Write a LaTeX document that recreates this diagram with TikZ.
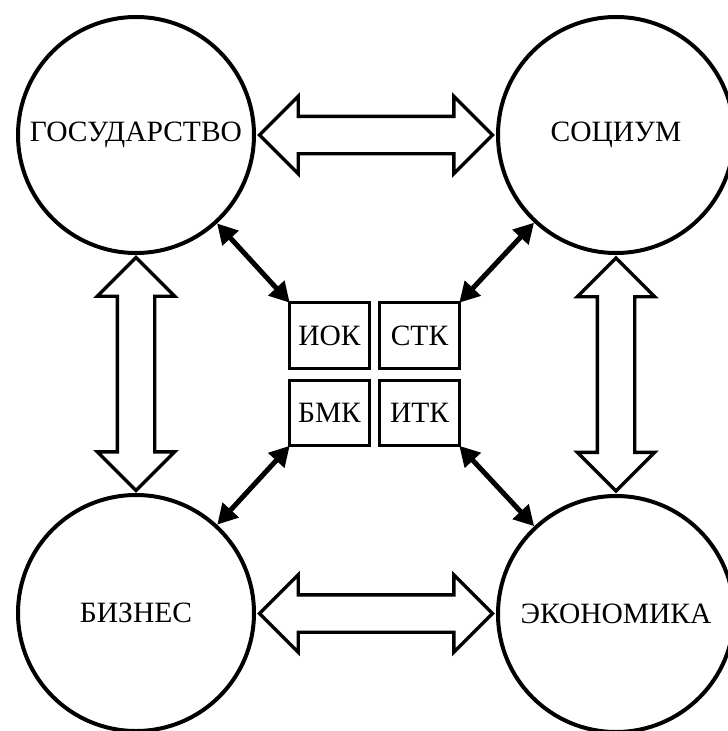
\documentclass[tikz,border=0pt]{standalone}
\usepackage{fontspec}
\setmainfont{Liberation Serif}
\usetikzlibrary{positioning,calc,shapes.arrows,arrows.meta}

\newcommand{\sphfont}{\fontsize{29.5pt}{31pt}\selectfont}

\tikzset{
  sphere/.style={circle,draw,line width=4pt,minimum size=236pt,inner sep=0pt,font=\sphfont},
  cell/.style={rectangle,draw,line width=3.4pt,minimum width=79.5pt,minimum height=65.5pt,inner sep=0pt,outer sep=0pt,font=\sphfont},
  flow/.style={double arrow,draw,line width=3.4pt,minimum height=233pt,inner xsep=0pt,inner ysep=17pt,double arrow head extend=20pt},
  link/.style={{Triangle[length=20pt,width=21pt]}-{Triangle[length=20pt,width=21pt]},line width=5pt},
}

\begin{document}
\begin{tikzpicture}[x=1pt,y=-1pt]
    \useasboundingbox (0,0) rectangle (728,731);
    % four spheres
    \node[sphere] (gos) at (136,135) {ГОСУДАРСТВО};
    \node[sphere] (soc) at (616,135) {СОЦИУМ};
    \node[sphere] (biz) at (136,613) {БИЗНЕС};
    \node[sphere] (eko) at (616,614) {ЭКОНОМИКА};
    % centre block
    \node[cell] (iok) at (329.5,335.5) {ИОК};
    \node[cell,right=10.5pt of iok] (stk) {СТК};
    \node[cell,below=12pt of iok] (bmk) {БМК};
    \node[cell,right=10.5pt of bmk] (itk) {ИТК};
    % hollow arrows between spheres
    \node[flow] (gs) at ($(gos.east)!0.5!(soc.west)$) {};
    \node[flow] (be) at ($(biz.east)!0.5!(eko.west)$) {};
    \node[flow,rotate=90] (gb) at ($(gos.south)!0.5!(biz.north)$) {};
    \node[flow,rotate=90] (se) at ($(soc.south)!0.5!(eko.north)$) {};
    % links to the block
    \draw[link] (gos) -- (iok.north west);
    \draw[link] (soc) -- (stk.north east);
    \draw[link] (biz) -- (bmk.south west);
    \draw[link] (eko) -- (itk.south east);
\end{tikzpicture}
\end{document}
